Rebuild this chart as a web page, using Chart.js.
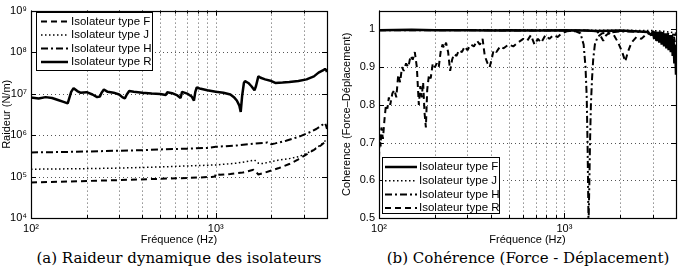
<!DOCTYPE html>
<html>
<head>
<meta charset="utf-8">
<script src="https://cdn.jsdelivr.net/npm/chart.js@4.4.1/dist/chart.umd.min.js"></script>
<style>
  body { margin: 0; background: #fff; width: 681px; height: 269px; overflow: hidden; position: relative; }
  canvas { position: absolute; top: 0; }
  .cap { position: absolute; top: 250px; font-family: "DejaVu Serif", serif; font-size: 15px;
         line-height: 17px; text-align: center; white-space: nowrap; color: #000; }
</style>
</head>
<body>
<canvas id="stiff" width="340" height="247" style="left:0"></canvas>
<canvas id="coh" width="341" height="247" style="left:340px"></canvas>
<div class="cap" style="left:25px;width:308px">(a) Raideur dynamique des isolateurs</div>
<div class="cap" style="left:383px;width:290px">(b) Cohérence (Force - Déplacement)</div>
<script>
// ---- data ----
const seriesNames = ['Isolateur type F', 'Isolateur type J', 'Isolateur type H', 'Isolateur type R']

const freqGrid = [100, 200, 300, 400, 500, 600, 700, 800, 900, 1000, 2000, 3000]
const freqTickValues = [100, 1000]
const freqTickLabels = ['10²', '10³']

const stiffTickValues = [1e4, 1e5, 1e6, 1e7, 1e8, 1e9]
const stiffTickLabels = ['10⁴', '10⁵', '10⁶', '10⁷', '10⁸', '10⁹']

const cohTickValues = [0.5, 0.6, 0.7, 0.8, 0.9, 1]
const cohTickLabels = ['0.5', '0.6', '0.7', '0.8', '0.9', '1']

// (a) stiffness, N/m
const stiffFreqF = [100, 200, 300, 500, 700, 950, 990, 1005, 1050, 1200, 1400, 1600, 1650, 1700, 1800, 2000, 2200, 2500, 2800, 3100, 3400, 3700, 3900, 4000]
const stiffF = [7.2e4, 7.8e4, 8.2e4, 8.8e4, 9.2e4, 9.8e4, 1.0e5, 1.2e5, 1.1e5, 1.15e5, 1.25e5, 1.45e5, 1.3e5, 1.12e5, 1.2e5, 1.4e5, 1.6e5, 2.0e5, 2.6e5, 3.4e5, 4.4e5, 5.6e5, 6.8e5, 7.5e5]

const stiffFreqJ = [100, 200, 300, 500, 700, 1000, 1300, 1550, 1620, 1700, 1800, 2000, 2200, 2500, 2800, 3100, 3400, 3700, 3900, 4000]
const stiffJ = [1.5e5, 1.55e5, 1.6e5, 1.7e5, 1.8e5, 1.9e5, 2.1e5, 2.4e5, 2.5e5, 2.1e5, 2.05e5, 2.3e5, 2.5e5, 2.7e5, 3.0e5, 3.6e5, 4.5e5, 5.8e5, 7.2e5, 8.0e5]

const stiffFreqH = [100, 150, 200, 300, 400, 500, 700, 900, 1000, 1300, 1600, 1900, 2000, 2100, 2400, 2800, 3200, 3500, 3800, 3900, 3950, 4000]
const stiffH = [3.8e5, 3.9e5, 4.0e5, 4.2e5, 4.3e5, 4.5e5, 4.7e5, 4.9e5, 5.2e5, 5.6e5, 6.2e5, 6.6e5, 6.0e5, 6.3e5, 7.3e5, 9.0e5, 1.15e6, 1.4e6, 1.8e6, 1.95e6, 1.7e6, 1.4e6]

const stiffFreqR = [100, 110, 120, 130, 140, 150, 158, 165, 170, 178, 185, 200, 215, 228, 236, 241, 248, 260, 280, 300, 312, 322, 330, 340, 360, 400, 450, 500, 537, 546, 580, 620, 645, 657, 700, 740, 762, 775, 789, 830, 900, 1000, 1100, 1200, 1260, 1300, 1340, 1365, 1390, 1420, 1440, 1500, 1560, 1620, 1650, 1700, 1750, 1850, 2000, 2100, 2300, 2500, 2800, 3100, 3400, 3600, 3800, 3900, 3960, 4000]
const stiffR = [8.0e6, 7.6e6, 8.2e6, 7.8e6, 7.0e6, 6.3e6, 5.8e6, 1.1e7, 1.35e7, 1.15e7, 1.05e7, 1.08e7, 9.5e6, 8.2e6, 8.5e6, 1.05e7, 1.25e7, 1.1e7, 1.05e7, 9.5e6, 8.2e6, 7.6e6, 9.5e6, 1.15e7, 1.1e7, 1.05e7, 1.0e7, 9.8e6, 9.2e6, 1.08e7, 1.02e7, 9.0e6, 7.8e6, 1.1e7, 1.0e7, 8.5e6, 6.8e6, 1.1e7, 1.4e7, 1.3e7, 1.2e7, 1.1e7, 1.05e7, 9.5e6, 8.0e6, 6.8e6, 5.2e6, 3.6e6, 9.0e6, 1.8e7, 2.0e7, 1.8e7, 1.5e7, 1.2e7, 1.5e7, 2.6e7, 2.4e7, 2.2e7, 2.0e7, 1.8e7, 1.85e7, 1.9e7, 2.0e7, 2.2e7, 2.6e7, 3.2e7, 3.6e7, 3.9e7, 3.7e7, 3.3e7]

// (b) coherence
const cohFreqF = [100, 150, 200, 300, 400, 500, 700, 1000, 1300, 1500, 2000, 2400, 2800, 2950, 3000, 3050, 3100, 3150, 3200, 3250, 3300, 3350, 3400, 3450, 3500, 3550, 3600, 3650, 3700, 3750, 3800, 3840, 3880, 3920, 3960, 4000]
const cohF = [0.998, 0.999, 0.998, 0.998, 0.997, 0.998, 0.997, 0.998, 0.997, 0.996, 0.997, 0.995, 0.993, 0.985, 0.996, 0.975, 0.995, 0.97, 0.993, 0.965, 0.994, 0.96, 0.992, 0.955, 0.99, 0.95, 0.99, 0.945, 0.985, 0.94, 0.985, 0.93, 0.975, 0.91, 0.96, 0.88]

const cohFreqJ = [100, 500, 1000, 2000, 3000, 3500, 4000]
const cohJ = [0.999, 0.999, 0.998, 0.998, 0.997, 0.995, 0.99]

const cohFreqH = [100, 300, 600, 1000, 1150, 1220, 1270, 1300, 1320, 1335, 1350, 1362, 1375, 1390, 1410, 1430, 1460, 1510, 1600, 2000, 2500, 3000, 3500, 4000]
const cohH = [0.998, 0.998, 0.997, 0.997, 0.995, 0.99, 0.96, 0.9, 0.82, 0.68, 0.48, 0.58, 0.7, 0.8, 0.87, 0.92, 0.96, 0.98, 0.99, 0.995, 0.994, 0.993, 0.99, 0.985]

const cohFreqR = [100, 101, 102, 103, 105, 107, 109, 111, 113, 115, 118, 121, 124, 127, 130, 133, 136, 140, 144, 148, 152, 156, 160, 164, 167, 170, 173, 176, 179, 182, 186, 190, 195, 200, 205, 210, 215, 220, 225, 230, 236, 242, 248, 254, 262, 270, 280, 290, 300, 312, 325, 338, 350, 362, 372, 385, 395, 405, 415, 430, 450, 470, 500, 530, 560, 600, 630, 660, 690, 720, 750, 790, 830, 870, 920, 970, 1030, 1100, 1300, 1500, 1560, 1620, 1680, 1750, 1850, 1950, 2050, 2130, 2200, 2300, 2450, 2600, 2800, 3000, 3150, 3300, 3450, 3600, 3750, 3900, 4000]
const cohR = [0.66, 0.72, 0.69, 0.74, 0.71, 0.76, 0.8, 0.79, 0.82, 0.8, 0.83, 0.84, 0.82, 0.88, 0.86, 0.9, 0.89, 0.91, 0.9, 0.93, 0.92, 0.94, 0.9, 0.8, 0.85, 0.82, 0.86, 0.78, 0.74, 0.84, 0.88, 0.87, 0.91, 0.9, 0.91, 0.9, 0.94, 0.96, 0.95, 0.965, 0.94, 0.89, 0.92, 0.935, 0.93, 0.945, 0.94, 0.955, 0.945, 0.96, 0.955, 0.97, 0.96, 0.975, 0.93, 0.91, 0.9, 0.92, 0.945, 0.94, 0.955, 0.95, 0.96, 0.955, 0.965, 0.975, 0.97, 0.985, 0.96, 0.975, 0.965, 0.985, 0.975, 0.985, 0.98, 0.99, 0.995, 0.997, 0.997, 0.995, 0.985, 0.97, 0.985, 0.99, 0.985, 0.965, 0.94, 0.915, 0.94, 0.965, 0.98, 0.975, 0.99, 0.985, 0.97, 0.99, 0.975, 0.985, 0.96, 0.98, 0.95]

// ---- styles ----
const FONT = '"Liberation Sans", Arial, sans-serif'
const dashed = { borderDash: [6, 4], borderWidth: 2 }
const dotted = { borderDash: [1.5, 2.5], borderWidth: 1.5 }
const dashDot = { borderDash: [7, 3, 2, 3], borderWidth: 2 }
const solid = { borderDash: [], borderWidth: 2.5 }

const toPoints = (xs, ys) => xs.map((x, i) => ({ x, y: ys[i] }))

const makeDataset = (label, xs, ys, style) => ({
  label,
  data: toPoints(xs, ys),
  borderColor: '#000',
  backgroundColor: '#000',
  borderJoinStyle: 'bevel',
  pointRadius: 0,
  tension: 0,
  fill: false,
  ...style
})

// dotted grid, box, inward ticks and the in-plot legend, MATLAB style
const makeFrame = cfg => ({
  id: 'frame',
  beforeDatasetsDraw(chart) {
    const { ctx, chartArea: a, scales: { x, y } } = chart
    ctx.save()
    ctx.strokeStyle = '#555'
    ctx.lineWidth = 1
    ctx.setLineDash([1, 3])
    ctx.beginPath()
    cfg.xGrid.forEach(v => {
      const px = Math.round(x.getPixelForValue(v)) + 0.5
      ctx.moveTo(px, a.top); ctx.lineTo(px, a.bottom)
    })
    cfg.yGrid.forEach(v => {
      const py = Math.round(y.getPixelForValue(v)) + 0.5
      ctx.moveTo(a.left, py); ctx.lineTo(a.right, py)
    })
    ctx.stroke()
    ctx.restore()
  },
  afterDatasetsDraw(chart) {
    const { ctx, chartArea: a, scales: { x, y } } = chart
    ctx.save()
    ctx.strokeStyle = '#000'
    ctx.lineWidth = 1
    ctx.setLineDash([])
    ctx.beginPath()
    cfg.xGrid.forEach(v => {
      const px = Math.round(x.getPixelForValue(v)) + 0.5
      const len = freqTickValues.includes(v) ? 5 : 3
      ctx.moveTo(px, a.bottom); ctx.lineTo(px, a.bottom - len)
      ctx.moveTo(px, a.top); ctx.lineTo(px, a.top + len)
    })
    cfg.yTicks.forEach(v => {
      const py = Math.round(y.getPixelForValue(v)) + 0.5
      ctx.moveTo(a.left, py); ctx.lineTo(a.left + 5, py)
      ctx.moveTo(a.right, py); ctx.lineTo(a.right - 5, py)
    })
    ctx.stroke()
    ctx.lineWidth = 1.2
    ctx.strokeRect(Math.round(a.left) + 0.5, Math.round(a.top) + 0.5, Math.round(a.right - a.left), Math.round(a.bottom - a.top))

    // legend
    const lg = cfg.legend
    ctx.fillStyle = '#fff'
    ctx.fillRect(lg.x, lg.y, lg.w, lg.h)
    ctx.lineWidth = 1
    ctx.strokeRect(lg.x + 0.5, lg.y + 0.5, lg.w, lg.h)
    ctx.font = '11.5px ' + FONT
    ctx.textBaseline = 'middle'
    chart.data.datasets.forEach((ds, i) => {
      const yy = lg.row0 + i * lg.step
      ctx.strokeStyle = '#000'
      ctx.lineWidth = ds.borderWidth
      ctx.setLineDash(ds.borderDash)
      ctx.beginPath()
      ctx.moveTo(lg.line0, yy); ctx.lineTo(lg.line1, yy)
      ctx.stroke()
      ctx.fillStyle = '#000'
      ctx.fillText(ds.label, lg.text, yy)
    })
    ctx.restore()
  }
})

const tickFont = { family: FONT, size: 11 }
const labelFrom = (values, labels) => v => {
  const i = values.findIndex(t => Math.abs(t - v) < 1e-9 * Math.max(1, Math.abs(t)))
  return i >= 0 ? labels[i] : ''
}

const freqAxis = {
  type: 'logarithmic',
  min: 100,
  max: 4000,
  afterBuildTicks: s => { s.ticks = freqTickValues.map(value => ({ value })) },
  afterFit: s => { s.height = 29 },
  ticks: { callback: labelFrom(freqTickValues, freqTickLabels), autoSkip: false, maxRotation: 0, minRotation: 0, padding: 4, color: '#000', font: tickFont },
  grid: { display: false, drawTicks: false },
  border: { display: false },
  title: { display: true, text: 'Fréquence (Hz)', padding: 0, color: '#000', font: tickFont }
}

new Chart(document.getElementById('stiff'), {
  type: 'line',
  data: {
    datasets: [
      makeDataset(seriesNames[0], stiffFreqF, stiffF, dashed),
      makeDataset(seriesNames[1], stiffFreqJ, stiffJ, dotted),
      makeDataset(seriesNames[2], stiffFreqH, stiffH, dashDot),
      makeDataset(seriesNames[3], stiffFreqR, stiffR, solid)
    ]
  },
  options: {
    responsive: false,
    animation: false,
    layout: { padding: { top: 9, right: 13, left: 0, bottom: 0 } },
    plugins: { legend: { display: false }, tooltip: { enabled: false } },
    scales: {
      x: freqAxis,
      y: {
        type: 'logarithmic',
        min: 1e4,
        max: 1e9,
        afterBuildTicks: s => { s.ticks = stiffTickValues.map(value => ({ value })) },
        afterFit: s => { s.width = 31 },
        ticks: { callback: labelFrom(stiffTickValues, stiffTickLabels), autoSkip: false, padding: 4, color: '#000', font: tickFont },
        grid: { display: false, drawTicks: false },
        border: { display: false },
        title: { display: true, text: 'Raideur (N/m)', padding: 0, color: '#000', font: tickFont }
      }
    }
  },
  plugins: [makeFrame({
    xGrid: freqGrid,
    yGrid: stiffTickValues,
    yTicks: stiffTickValues,
    legend: { x: 36, y: 12, w: 116, h: 58, row0: 21.5, step: 13.5, line0: 41, line1: 68, text: 71 }
  })]
})

new Chart(document.getElementById('coh'), {
  type: 'line',
  data: {
    datasets: [
      makeDataset(seriesNames[0], cohFreqF, cohF, solid),
      makeDataset(seriesNames[1], cohFreqJ, cohJ, dotted),
      makeDataset(seriesNames[2], cohFreqH, cohH, dashDot),
      makeDataset(seriesNames[3], cohFreqR, cohR, dashed)
    ]
  },
  options: {
    responsive: false,
    animation: false,
    layout: { padding: { top: 10, right: 5, left: 0, bottom: 0 } },
    plugins: { legend: { display: false }, tooltip: { enabled: false } },
    scales: {
      x: freqAxis,
      y: {
        type: 'linear',
        min: 0.5,
        max: 1.05,
        afterBuildTicks: s => { s.ticks = cohTickValues.map(value => ({ value })) },
        afterFit: s => { s.width = 39 },
        ticks: { callback: labelFrom(cohTickValues, cohTickLabels), autoSkip: false, padding: 4, color: '#000', font: tickFont },
        grid: { display: false, drawTicks: false },
        border: { display: false },
        title: { display: true, text: 'Coherence (Force–Déplacement)', padding: 0, color: '#000', font: tickFont }
      }
    }
  },
  plugins: [makeFrame({
    xGrid: freqGrid,
    yGrid: [0.6, 0.7, 0.8, 0.9],
    yTicks: cohTickValues,
    legend: { x: 42, y: 157, w: 117, h: 56, row0: 167, step: 13.7, line0: 45, line1: 77, text: 79 }
  })]
})
</script>
</body>
</html>
